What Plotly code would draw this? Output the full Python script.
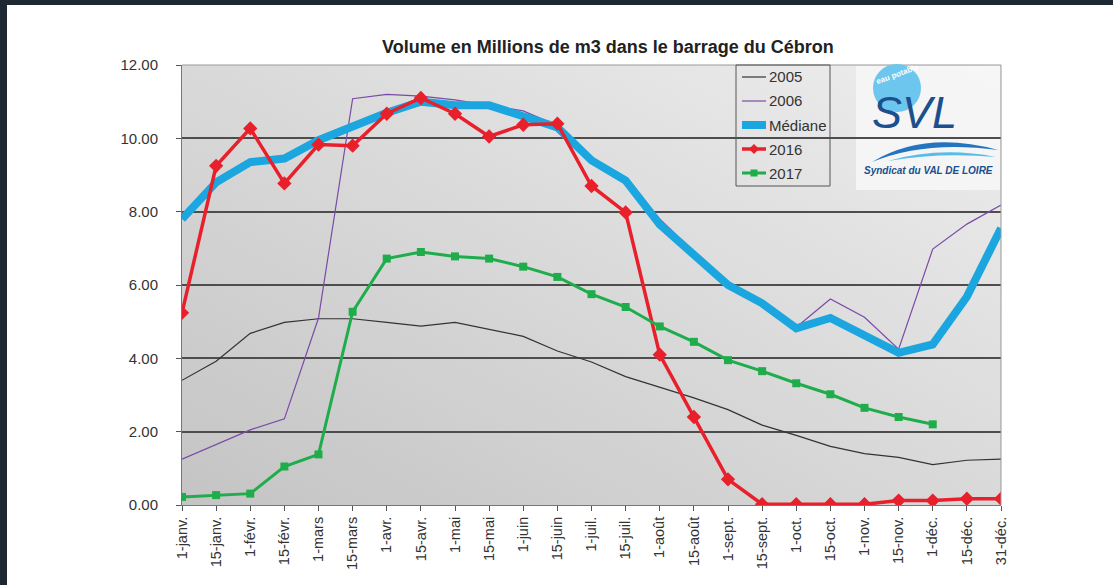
import base64
import plotly.graph_objects as go

# Dates (axe X)
dates = ["1-janv.", "15-janv.", "1-févr.", "15-févr.", "1-mars", "15-mars",
         "1-avr.", "15-avr.", "1-mai", "15-mai", "1-juin", "15-juin",
         "1-juil.", "15-juil.", "1-août", "15-août", "1-sept.", "15-sept.",
         "1-oct.", "15-oct.", "1-nov.", "15-nov.", "1-déc.", "15-déc.", "31-déc."]

v2005 = [3.40, 3.92, 4.68, 4.98, 5.08, 5.08, 4.98, 4.88, 4.98, 4.78, 4.60, 4.20,
         3.90, 3.50, 3.22, 2.92, 2.60, 2.18, 1.90, 1.60, 1.40, 1.30, 1.10, 1.22, 1.25]
v2006 = [1.25, 1.65, 2.05, 2.35, 5.10, 11.08, 11.20, 11.15, 11.05, 10.90, 10.75, 10.35,
         9.40, 8.85, 7.80, 6.90, 6.00, 5.50, 4.85, 5.62, 5.12, 4.25, 6.98, 7.66, 8.18]
mediane = [7.80, 8.80, 9.35, 9.45, 9.95, 10.35, 10.70, 11.00, 10.90, 10.90, 10.60, 10.30,
           9.40, 8.85, 7.65, 6.85, 6.00, 5.50, 4.82, 5.10, 4.65, 4.15, 4.38, 5.68, 7.55]
v2016 = [5.24, 9.25, 10.27, 8.77, 9.83, 9.80, 10.67, 11.10, 10.67, 10.05, 10.37, 10.40,
         8.70, 7.98, 4.10, 2.40, 0.70, 0.02, 0.02, 0.02, 0.02, 0.12, 0.12, 0.17, 0.17]
v2017 = [0.22, 0.27, 0.31, 1.05, 1.38, 5.27, 6.72, 6.90, 6.78, 6.72, 6.50, 6.22,
         5.75, 5.40, 4.87, 4.45, 3.95, 3.65, 3.32, 3.02, 2.65, 2.40, 2.20]

yticks = [0, 2, 4, 6, 8, 10, 12]

series = [
    ("2005", v2005, "#333333", 1.2, None),
    ("2006", v2006, "#7a4aa8", 1.2, None),
    ("Médiane", mediane, "#1ba6df", 8, None),
    ("2016", v2016, "#e8202b", 3.5, "diamond"),
    ("2017", v2017, "#1fad4b", 3, "square"),
]

# position en pixels -> coordonnées "paper"
L, R, T, B = 182, 1001, 65, 505
def px(x):
    return (x - L) / (R - L)
def py(y):
    return (B - y) / (B - T)

fig = go.Figure()

for nom, vals, couleur, largeur, symbole in series:
    fig.add_trace(go.Scatter(
        x=dates[:len(vals)], y=vals, name=nom,
        mode="lines+markers" if symbole else "lines",
        line=dict(color=couleur, width=largeur),
        marker=dict(symbol=symbole or "circle", size=11 if symbole == "diamond" else 8, color=couleur),
        showlegend=False,
    ))

# fond dégradé gris de la zone de tracé
svg = ('<svg xmlns="http://www.w3.org/2000/svg" width="100" height="100" preserveAspectRatio="none">'
       '<defs><linearGradient id="g" x1="0" y1="1" x2="1" y2="0">'
       '<stop offset="0" stop-color="#c4c4c4"/><stop offset="1" stop-color="#eeeeee"/>'
       '</linearGradient></defs><rect width="100" height="100" fill="url(#g)"/></svg>')
src = "data:image/svg+xml;base64," + base64.b64encode(svg.encode()).decode()

fig.update_layout(
    width=1113, height=585,
    margin=dict(l=L, r=1113 - R, t=T, b=585 - B),
    paper_bgcolor="white",
    plot_bgcolor="rgba(0,0,0,0)",
    font=dict(family="Liberation Sans, Arial", size=14, color="#333333"),
    showlegend=False,
    images=[dict(source=src, xref="paper", yref="paper", x=0, y=1, sizex=1, sizey=1,
                 sizing="stretch", layer="below")],
    xaxis=dict(type="category", range=[0, len(dates) - 1], tickangle=-90,
               showgrid=False, showline=True, linecolor="#777777", linewidth=1,
               ticks="outside", ticklen=5, tickcolor="#555555",
               tickfont=dict(size=14.5, color="#333333")),
    yaxis=dict(range=[0, 12], tickvals=yticks, tickformat=".2f",
               showgrid=True, gridcolor="#4d4d4d", gridwidth=1.5,
               showline=True, linecolor="#777777", linewidth=1,
               ticks="outside", ticklen=5, tickcolor="#555555",
               ticklabelstandoff=15,
               tickfont=dict(size=15, color="#333333"), zeroline=False),
)

# cadre du haut et de droite de la zone de tracé
fig.add_shape(type="line", xref="paper", yref="paper", x0=0, x1=1, y0=1, y1=1,
              line=dict(color="#999999", width=1))
fig.add_shape(type="line", xref="paper", yref="paper", x0=1, x1=1, y0=0, y1=1,
              line=dict(color="#999999", width=1))

# bandes sombres de la capture
fig.add_shape(type="rect", xref="paper", yref="paper",
              x0=px(0), x1=px(7), y0=py(585), y1=py(0),
              fillcolor="#1d2833", line=dict(width=0), layer="above")
fig.add_shape(type="rect", xref="paper", yref="paper",
              x0=px(0), x1=px(1113), y0=py(5), y1=py(0),
              fillcolor="#1d2833", line=dict(width=0), layer="above")

# titre
fig.add_annotation(text="<b>Volume en Millions de m3 dans le barrage du Cébron</b>",
                   xref="paper", yref="paper", x=px(608), y=py(47),
                   xanchor="center", yanchor="middle",
                   showarrow=False, font=dict(size=18, color="#222222"))

# légende dessinée à la main (cadre étroit comme l'original)
fig.add_shape(type="rect", xref="paper", yref="paper",
              x0=px(736), x1=px(830), y0=py(186), y1=py(65),
              line=dict(color="#555555", width=1), fillcolor="rgba(0,0,0,0)")
for i, (nom, vals, couleur, largeur, symbole) in enumerate(series):
    yy = 77 + 24 * i
    fig.add_shape(type="line", xref="paper", yref="paper",
                  x0=px(742), x1=px(766), y0=py(yy), y1=py(yy),
                  line=dict(color=couleur, width=largeur))
    if symbole == "diamond":
        fig.add_shape(type="path", xref="paper", yref="paper",
                      path=f"M {px(754)} {py(yy - 5)} L {px(759)} {py(yy)} L {px(754)} {py(yy + 5)} L {px(749)} {py(yy)} Z",
                      fillcolor=couleur, line=dict(width=0))
    elif symbole == "square":
        fig.add_shape(type="rect", xref="paper", yref="paper",
                      x0=px(750.5), x1=px(757.5), y0=py(yy + 3.5), y1=py(yy - 3.5),
                      fillcolor=couleur, line=dict(width=0))
    fig.add_annotation(text=nom, xref="paper", yref="paper", x=px(767), y=py(yy),
                       xanchor="left", yanchor="middle", showarrow=False,
                       font=dict(size=15, color="#333333"))

# logo SVL (approximation)
fig.add_shape(type="rect", xref="paper", yref="paper",
              x0=px(856), x1=px(1000), y0=py(190), y1=py(66),
              fillcolor="rgba(246,246,246,0.9)", line=dict(width=0), layer="below")
fig.add_shape(type="circle", xref="paper", yref="paper",
              x0=px(873), x1=px(921), y0=py(112), y1=py(64),
              fillcolor="#6cc6ee", line=dict(width=0))
fig.add_annotation(text="<b>eau potable</b>", xref="paper", yref="paper",
                   x=px(897), y=py(74), xanchor="center", yanchor="middle",
                   showarrow=False, textangle=-20,
                   font=dict(size=8, color="white"))
fig.add_annotation(text="<i>SVL</i>", xref="paper", yref="paper",
                   x=px(914), y=py(112), xanchor="center", yanchor="middle",
                   showarrow=False,
                   font=dict(size=45, color="#1b4f8e", family="Liberation Sans"))
fig.add_shape(type="path", xref="paper", yref="paper",
              path=(f"M {px(872)} {py(162)} Q {px(925)} {py(130)} {px(998)} {py(150)} "
                    f"Q {px(925)} {py(140)} {px(872)} {py(162)} Z"),
              fillcolor="#2375c0", line=dict(width=0))
fig.add_shape(type="path", xref="paper", yref="paper",
              path=(f"M {px(888)} {py(161)} Q {px(940)} {py(146)} {px(996)} {py(157)} "
                    f"Q {px(940)} {py(152)} {px(888)} {py(161)} Z"),
              fillcolor="#55bde9", line=dict(width=0))
fig.add_annotation(text="<b><i>Syndicat du VAL DE LOIRE</i></b>", xref="paper", yref="paper",
                   x=px(928), y=py(170), xanchor="center", yanchor="middle",
                   showarrow=False, font=dict(size=10, color="#1b4f8e"))

fig.write_html("out.html", config={"displayModeBar": False},
               post_script="document.body.style.margin='0';document.body.style.overflow='hidden';")
